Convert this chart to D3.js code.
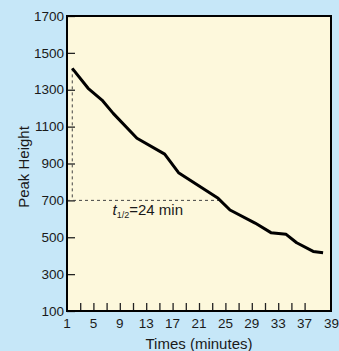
<!DOCTYPE html>
<html>
<head>
<meta charset="utf-8">
<script src="https://cdn.jsdelivr.net/npm/d3@7"></script>
<style>
  body { margin: 0; background: #c6e7f8; }
  svg { display: block; font-family: "Liberation Sans", Arial, sans-serif; }
</style>
</head>
<body>
<svg></svg>
<script>
var width = 339, height = 351;
var margin = {top: 16, right: 8, bottom: 40, left: 67};

// peak height measured over time (minutes)
var minutes = [1.8, 4.2, 6.3, 8.0, 11.6, 15.8, 17.9, 23.9, 25.7, 29.5, 31.9, 34.2, 35.8, 38.3, 39.8];
var peaks   = [1416, 1308, 1244, 1172, 1037, 951, 850, 711, 648, 577, 525, 516, 470, 423, 416];

var xTicks = [3, 5, 7, 9, 11, 13, 15, 17, 19, 21, 23, 25, 27, 29, 31, 33, 35, 37];
var xLabels = [1, 5, 9, 13, 17, 21, 25, 29, 33, 37];
var yTicks = [100, 300, 500, 700, 900, 1100, 1300, 1500, 1700];
var halfLife = {value: 700, start: 1.8, end: 24}; // t1/2 guide lines

var svg = d3.select("svg").attr("width", width).attr("height", height);

var x = d3.scaleLinear().domain([1, 41]).range([margin.left, width - margin.right]);
var y = d3.scaleLinear().domain([100, 1700]).range([height - margin.bottom, margin.top]);

// plot background
svg.append("rect")
    .attr("x", x(1)).attr("y", y(1700))
    .attr("width", x(41) - x(1)).attr("height", y(100) - y(1700))
    .attr("fill", "#fdf8dc");

// y axis (ticks pointing inward)
var yAxis = svg.append("g")
    .attr("transform", "translate(" + x(1) + ",0)")
    .call(d3.axisRight(y).tickValues(yTicks).tickSize(8).tickFormat(""));
yAxis.select(".domain").remove();
yAxis.selectAll("line").attr("stroke", "#222").attr("stroke-width", 1.3);

svg.append("g").selectAll("text")
    .data(yTicks)
    .enter()
    .append("text")
    .attr("x", x(1) - 3)
    .attr("y", d => y(d))
    .attr("dy", "0.35em")
    .attr("text-anchor", "end")
    .attr("font-size", 13.5)
    .attr("fill", "#1a1a1a")
    .text(d => d);

// x axis (ticks pointing up)
var xAxis = svg.append("g")
    .attr("transform", "translate(0," + y(100) + ")")
    .call(d3.axisTop(x).tickValues(xTicks).tickSize(8).tickFormat(""));
xAxis.select(".domain").remove();
xAxis.selectAll("line").attr("stroke", "#222").attr("stroke-width", 1.3);

svg.append("g").selectAll("text")
    .data(xLabels)
    .enter()
    .append("text")
    .attr("x", d => x(d))
    .attr("y", y(100) + 17)
    .attr("text-anchor", "middle")
    .attr("font-size", 13.5)
    .attr("fill", "#1a1a1a")
    .text(d => d);
// last label sits at the right edge
svg.append("text")
    .attr("x", width)
    .attr("y", y(100) + 17)
    .attr("text-anchor", "end")
    .attr("font-size", 13.5)
    .attr("fill", "#1a1a1a")
    .text("39");

// half-life guides
svg.append("path")
    .attr("d", d3.line()([[x(halfLife.start), y(peaks[0])], [x(halfLife.start), y(halfLife.value)]]))
    .attr("stroke", "#444").attr("stroke-width", 1).attr("stroke-dasharray", "3,3");
svg.append("path")
    .attr("d", d3.line()([[x(1), y(halfLife.value)], [x(halfLife.end), y(halfLife.value)]]))
    .attr("stroke", "#444").attr("stroke-width", 1).attr("stroke-dasharray", "3,3");

var hl = svg.append("text")
    .attr("x", x(7.9))
    .attr("y", y(halfLife.value) + 15)
    .attr("font-size", 15)
    .attr("fill", "#1a1a1a");
hl.append("tspan").attr("font-style", "italic").text("t");
hl.append("tspan").attr("font-size", 9).attr("dy", 3).text("1/2");
hl.append("tspan").attr("dy", -3).text("=24 min");

// data line
var line = d3.line()
    .x((d, i) => x(minutes[i]))
    .y(d => y(d));
svg.append("path")
    .datum(peaks)
    .attr("d", line)
    .attr("fill", "none")
    .attr("stroke", "#000")
    .attr("stroke-width", 3)
    .attr("stroke-linejoin", "round");

// frame
svg.append("rect")
    .attr("x", x(1)).attr("y", y(1700))
    .attr("width", x(41) - x(1)).attr("height", y(100) - y(1700))
    .attr("fill", "none")
    .attr("stroke", "#000")
    .attr("stroke-width", 2);

// axis titles
svg.append("text")
    .attr("x", 199)
    .attr("y", height - 2)
    .attr("text-anchor", "middle")
    .attr("font-size", 15)
    .attr("fill", "#1a1a1a")
    .text("Times (minutes)");
svg.append("text")
    .attr("transform", "translate(29,167) rotate(-90)")
    .attr("text-anchor", "middle")
    .attr("font-size", 15)
    .attr("fill", "#1a1a1a")
    .text("Peak Height");
</script>
</body>
</html>
